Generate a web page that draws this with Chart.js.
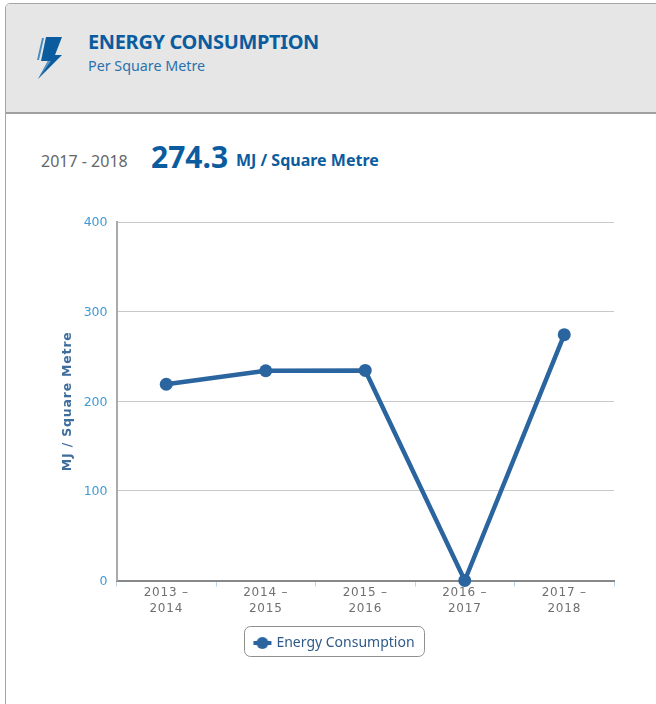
<!DOCTYPE html>
<html><head><meta charset="utf-8">
<style>
html,body{margin:0;padding:0;width:656px;height:704px;overflow:hidden;background:#fff;font-family:"Noto Sans",sans-serif}
#card{position:absolute;left:5px;top:3px;width:700px;height:760px;border:1px solid #a6a6a6;border-radius:5px;box-sizing:border-box}
#head{position:absolute;left:0;top:0;right:0;height:108px;background:#e6e6e6;border-bottom:2px solid #a0a0a0;border-radius:4px 4px 0 0}
.t{position:absolute;white-space:nowrap;color:#0b5c9e}
#bolt{position:absolute;left:36px;top:36px}
canvas{position:absolute;left:0;top:0}
</style></head><body>
<div id="card"><div id="head"></div></div>
<svg id="bolt" width="27" height="44" viewBox="0 0 27 44"><path d="M10 1H26L19 19H26L2 43L12 25H5Z" fill="#0b5c9e"/><path d="M6 2H8L3 24H1Z" fill="#4a8cc0"/><path d="M2 43L12 25H15Z" fill="#5b95c4"/></svg>
<div class="t" style="left:88px;top:28px;font-size:20px;font-weight:700;line-height:28px;letter-spacing:-.35px">ENERGY CONSUMPTION</div>
<div class="t" style="left:88px;top:56px;font-size:14.3px;line-height:20px;color:#2a72ad">Per Square Metre</div>
<div class="t" style="left:41px;top:150px;font-size:16px;line-height:22px;color:#666">2017 - 2018</div>
<div class="t" style="left:151px;top:138px;font-size:30px;font-weight:700;line-height:38px">274.3</div>
<div class="t" style="left:236px;top:149px;font-size:16px;font-weight:700;line-height:22px">MJ / Square Metre</div>
<canvas id="c" width="656" height="704"></canvas>
<script src="https://cdn.jsdelivr.net/npm/chart.js@4"></script>
<script>
const categories=[["2013 –","2014"],["2014 –","2015"],["2015 –","2016"],["2016 –","2017"],["2017 –","2018"]];
const seriesName="Energy Consumption";
const seriesValues=[219,234,234.4,0,274.3];
const yTicks=[0,100,200,300,400];
const yTitle="MJ / Square Metre";
const lineColor="#2a659f";

const marker=document.createElement('canvas');marker.width=20;marker.height=14;
const m=marker.getContext('2d');m.fillStyle=lineColor;m.fillRect(1,5,18,4);m.beginPath();m.arc(10,7,6,0,7);m.fill();

const chrome={id:'chrome',
 beforeDraw(ch){
  ch.ctx.letterSpacing='0.8px';
  if(!ch.legend._wrapped){
   const d=ch.legend.draw.bind(ch.legend), c=ch.ctx;
   ch.legend.draw=function(){c.letterSpacing='0px';d();c.letterSpacing='0.8px';};
   const y=ch.scales.y, l=y.drawLabels.bind(y);
   y.drawLabels=function(a){c.letterSpacing='0px';l(a);c.letterSpacing='0.8px';};
   ch.legend._wrapped=true;}
 },
 afterDraw(ch){const c=ch.ctx;c.save();c.letterSpacing='0px';c.strokeStyle='#8f8f8f';c.lineWidth=1;c.beginPath();
  c.roundRect(244.5,626.5,180,30,6);c.stroke();c.restore();}};

new Chart(document.getElementById('c'),{type:'line',plugins:[chrome],
 data:{labels:categories,datasets:[{label:seriesName,data:seriesValues,borderColor:lineColor,backgroundColor:lineColor,
  borderWidth:4.5,pointRadius:6.5,pointBorderWidth:0,pointHoverRadius:6,tension:0,clip:false}]},
 options:{responsive:false,animation:false,
  layout:{padding:{left:56,top:222,right:42,bottom:44}},
  plugins:{tooltip:{enabled:false},
   legend:{position:'bottom',align:'center',labels:{padding:8,boxHeight:14,boxWidth:20,color:'#2f5a8a',font:{family:'"Noto Sans"',size:14},
     usePointStyle:true,
     generateLabels:()=>[{text:seriesName,pointStyle:marker,fillStyle:lineColor,strokeStyle:lineColor,lineWidth:0,fontColor:'#2f5a8a'}]},
    onClick:null}},
  scales:{
   x:{offset:true,grid:{drawOnChartArea:false,color:'#bcd3e6',tickLength:6,offset:true},border:{color:'#888',width:2},
      afterFit(s){s.height=47.5;},
      ticks:{color:'#6f6f6f',font:{family:'"DejaVu Sans"',size:12,lineHeight:1.33},maxRotation:0,padding:-2}},
   y:{min:0,max:400,grid:{color:'#c8c8c8',lineWidth:1,tickColor:'transparent',tickLength:8},border:{color:'#aaaaaa',width:2},
      afterFit(s){s.width=60.5;},
      afterBuildTicks(s){s.ticks=yTicks.map(v=>({value:v}));},
      title:{display:true,text:yTitle,color:'#3f6d9c',font:{family:'"DejaVu Sans"',size:12.5,weight:'bold'},padding:{top:4,bottom:0}},
      ticks:{color:'#3f9bd6',font:{family:'"DejaVu Sans"',size:12.5},padding:1,labelOffset:1}}
  }}});
</script>
</body></html>
